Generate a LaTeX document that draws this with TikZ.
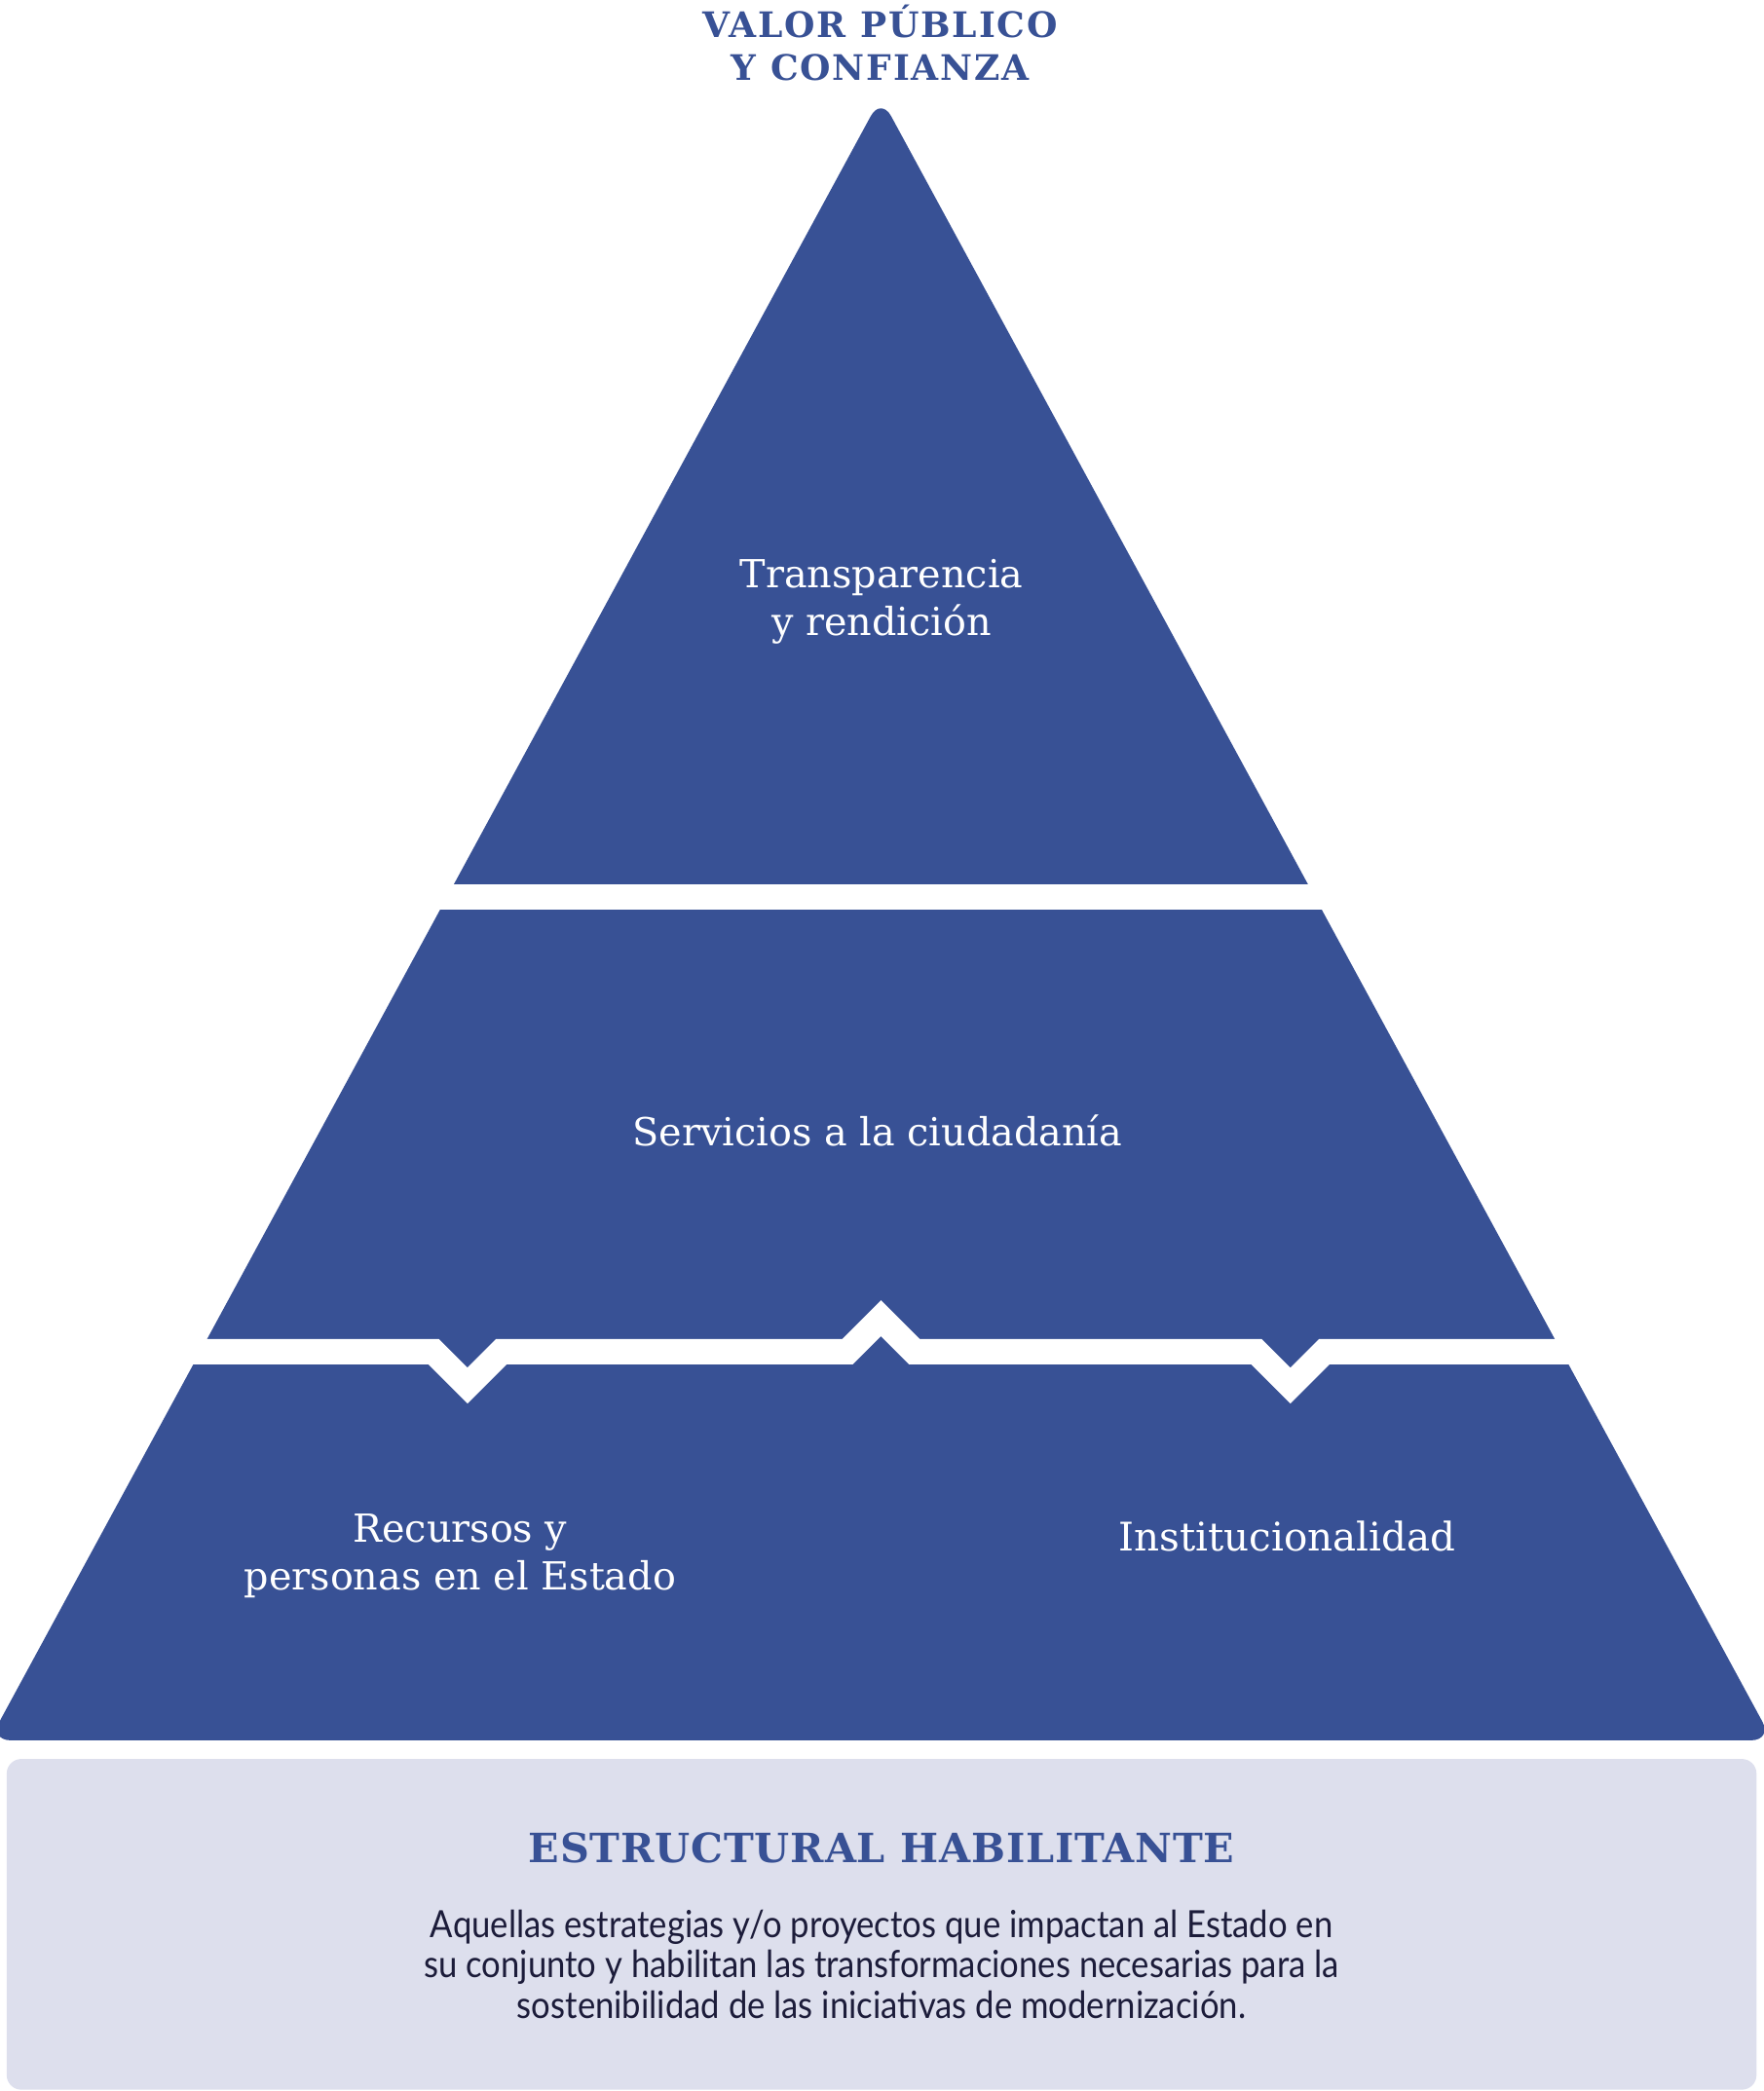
\documentclass[tikz,border=0pt]{standalone}
\usepackage{fontspec}
\newfontfamily\slabfont{DejaVu Serif}
\newfontfamily\headfont[LetterSpace=5]{DejaVu Serif}
\newfontfamily\boxheadfont[LetterSpace=2]{DejaVu Serif}
\newfontfamily\bodyfont[FakeStretch=0.9]{Lato}
\definecolor{pyrblue}{HTML}{385195}
\definecolor{boxfill}{HTML}{DDDFED}
\definecolor{bodytext}{HTML}{1C1C3A}
\tikzset{
  label/.style={text=white, align=center, inner sep=0pt, font=\slabfont\fontsize{8.25pt}{10.2pt}\selectfont},
  head/.style={text=pyrblue, align=center, inner sep=0pt},
  gap/.style={white, line width=1.9mm, miter limit=10},
}
\begin{document}
\begin{tikzpicture}[x=0.1mm,y=-0.1mm]
\useasboundingbox (0,0) rectangle (1322,1568);
% pyramid
\fill[pyrblue, rounded corners=1.6mm] (660,1305) -- (1329,1305) -- (660.5,73) -- (-8,1305) -- cycle;
% gaps
\draw[gap] (300,672.5) -- (1020,672.5);
\draw[gap] (-20,1013.5) -- (325,1013.5) -- (350.5,1039) -- (376,1013.5) -- (635.5,1013.5) -- (660.5,988.5) -- (685.5,1013.5) -- (942,1013.5) -- (967.5,1039) -- (993,1013.5) -- (1345,1013.5);
% bottom box
\fill[boxfill, rounded corners=1.1mm] (5,1319) rectangle (1317,1567);
% texts
\node[head, font=\headfont\bfseries\fontsize{7.5pt}{9.25pt}\selectfont] (title) at (660,32) {VALOR PÚBLICO\\Y CONFIANZA};
\node[label] (top) at (661,451) {Transparencia\\y rendición};
\node[label] (mid) at (658,848) {Servicios a la ciudadanía};
\node[label] (left) at (345,1167) {Recursos y\\personas en el Estado};
\node[label, font=\slabfont\fontsize{8.4pt}{10.2pt}\selectfont] (right) at (965,1152) {Institucionalidad};
\node[head, font=\boxheadfont\bfseries\fontsize{8.6pt}{10pt}\selectfont] (boxhead) at (661,1386) {ESTRUCTURAL HABILITANTE};
\node[text=bodytext, align=center, inner sep=0pt, font=\bodyfont\fontsize{8pt}{8.7pt}\selectfont] (body) at (661,1473) {Aquellas estrategias y/o proyectos que impactan al Estado en\\su conjunto y habilitan las transformaciones necesarias para la\\sostenibilidad de las iniciativas de modernización.};
\end{tikzpicture}
\end{document}
